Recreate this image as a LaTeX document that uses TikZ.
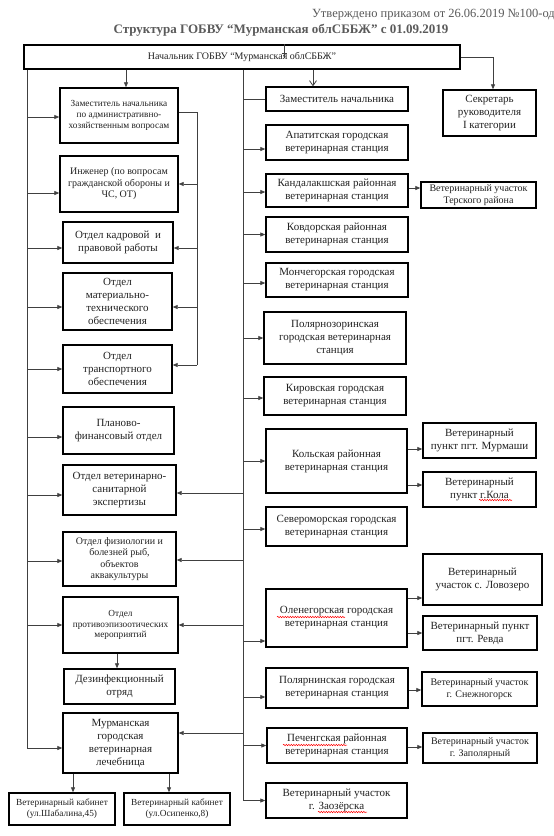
\documentclass[tikz,border=0pt]{standalone}
\usepackage{fontspec}
\setmainfont{Liberation Serif}
\usetikzlibrary{arrows.meta,decorations.pathmorphing}
\definecolor{txt}{HTML}{222222}
\definecolor{ttl}{HTML}{5A5A5A}
\definecolor{ln}{HTML}{404040}
\tikzset{
  box/.style={draw=black, line width=1.4pt, fill=white, align=center, inner sep=1pt, text=txt},
  conn/.style={draw=ln, line width=0.8pt},
  arr/.style={conn, -{Triangle[length=5pt,width=4pt]}},
  oarr/.style={conn, -{Straight Barb[length=5pt,width=7pt]}},
  fa/.style={font=\fontsize{11}{13}\selectfont},
  fb/.style={font=\fontsize{10}{11.5}\selectfont},
  fc/.style={font=\fontsize{9.3}{10.8}\selectfont},
  wavy/.style={draw=red, line width=0.5pt, decorate, decoration={snake, amplitude=0.7pt, segment length=2.5pt}}
}
\newcommand\BX[7]{\node[box,#6,minimum width=#4,minimum height=#5] (#1) at (#2,#3) {#7};}
\begin{document}
\begin{tikzpicture}[x=1pt,y=-1pt]
\useasboundingbox (0,0) rectangle (554,836);
\fill[white] (0,0) rectangle (554,836);
% titles
\node[anchor=east, inner sep=0pt, text=ttl, font=\fontsize{12.5}{14}\selectfont] (appr) at (555,15) {Утверждено приказом от 26.06.2019 №100-од};
\node[inner sep=0pt, text=ttl, font=\bfseries\fontsize{13}{15}\selectfont] (title) at (281,30) {Структура ГОБВУ “Мурманская облСББЖ” с 01.09.2019};
% main
\BX{main}{242}{57}{436}{24}{fb}{Начальник ГОБВУ “Мурманская облСББЖ”}
% left column
\BX{L1}{119}{115.5}{118}{55}{fc}{Заместитель начальника\\по административно-\\хозяйственным вопросам}
\BX{L2}{119}{184}{118}{56}{fb}{Инженер (по вопросам\\гражданской обороны и\\ЧС, ОТ)}
\BX{L3}{118}{242.5}{110}{41}{fa}{Отдел кадровой\ \ и\\правовой работы}
\BX{L4}{117.5}{301.5}{109}{57}{fa}{Отдел\\материально-\\технического\\обеспечения}
\BX{L5}{117.5}{369}{109}{48}{fa}{Отдел\\транспортного\\обеспечения}
\BX{L6}{118.5}{430.5}{111}{47}{fa}{Планово-\\финансовый отдел}
\BX{L7}{119.5}{490}{113}{50}{fa}{Отдел ветеринарно-\\санитарной\\экспертизы}
\BX{L8}{119.5}{559}{113}{54}{fb}{Отдел физиологии и\\болезней рыб,\\объектов\\аквакультуры}
\BX{L9}{120.5}{625}{115}{56}{fc}{Отдел\\противоэпизоотических\\мероприятий}
\BX{L10}{119.5}{686.5}{111}{35}{fa}{Дезинфекционный\\отряд}
\BX{L11}{120.5}{743}{115}{60}{fa}{Мурманская\\городская\\ветеринарная\\лечебница}
\BX{L12}{62}{809}{106}{32}{fc}{Ветеринарный кабинет\\(ул.Шабалина,45)}
\BX{L13}{177}{809}{106}{32}{fc}{Ветеринарный кабинет\\(ул.Осипенко,8)}
% middle column
\BX{M0}{337}{99}{142}{24}{fa}{Заместитель начальника}
\BX{M1}{337}{142.5}{142}{35}{fa}{Апатитская городская\\ветеринарная станция}
\BX{M2}{337}{190.5}{142}{33}{fa}{Кандалакшская районная\\ветеринарная станция}
\BX{M3}{337}{234.5}{142}{35}{fa}{Ковдорская районная\\ветеринарная станция}
\BX{M4}{337}{280}{142}{34}{fa}{Мончегорская городская\\ветеринарная станция}
\BX{M5}{335}{338}{142}{52}{fa}{Полярнозоринская\\городская ветеринарная\\станция}
\BX{M6}{335}{396}{142}{38}{fa}{Кировская городская\\ветеринарная станция}
\BX{M7}{336.5}{461}{141}{64}{fa}{Кольская районная\\ветеринарная станция}
\BX{M8}{336.5}{526.5}{141}{39}{fa}{Североморская городская\\ветеринарная станция}
\BX{M9}{336.5}{618}{141}{58}{fa}{Оленегорская городская\\ветеринарная станция}
\BX{M10}{337}{688}{142}{40}{fa}{Полярнинская городская\\ветеринарная станция}
\BX{M11}{337}{745.5}{140}{35}{fa}{Печенгская районная\\ветеринарная станция}
\BX{M12}{336.5}{800.5}{141}{35}{fa}{Ветеринарный участок\\г. Заозёрска}
% right column
\BX{R0}{489.5}{113}{93}{46}{fa}{Секретарь\\руководителя\\I категории}
\BX{R1}{478.5}{195}{115}{26}{fb}{Ветеринарный участок\\Терского района}
\BX{R2}{479.5}{440.5}{113}{35}{fa}{Ветеринарный\\пункт пгт. Мурмаши}
\BX{R3}{479.5}{489.5}{113}{35}{fa}{Ветеринарный\\пункт г.Кола}
\BX{R4}{482.5}{579.5}{119}{51}{fa}{Ветеринарный\\участок с. Ловозеро}
\BX{R5}{480}{633}{114}{34}{fa}{Ветеринарный пункт\\пгт. Ревда}
\BX{R6}{479.5}{689}{115}{34}{fb}{Ветеринарный участок\\г. Снежногорск}
\BX{R7}{480}{748}{114}{30}{fb}{Ветеринарный участок\\г. Заполярный}
% trunk coordinates
\coordinate (lx) at (27,0);
\coordinate (bx) at (197,0);
\coordinate (mx) at (243,0);
% artifact mark in main box
\draw[conn] ([xshift=42pt]main.north) -- ([xshift=42pt,yshift=-14pt]main.north);
\draw[conn] ([xshift=39.5pt,yshift=-9pt]main.north) -- ([xshift=44.5pt,yshift=-9pt]main.north);
% main -> L1, M0, R0
\draw[arr] ([xshift=7pt]L1.north |- main.south) -- ([xshift=7pt]L1.north);
\draw[oarr] ([xshift=-24pt]M0.north |- main.south) -- ([xshift=-24pt]M0.north);
\draw[arr] (main.east) -- ([xshift=3.5pt]R0.north |- main.east) -- ([xshift=3.5pt]R0.north);
% left trunk
\draw[arr] (lx |- main.south) -- ([yshift=-5pt]L11.west -| lx) -- ([yshift=-5pt]L11.west);
\draw[arr] ([yshift=-1.5pt]L1.west -| lx) -- ([yshift=-1.5pt]L1.west);
\draw[arr] ([yshift=-9pt]L2.west -| lx) -- ([yshift=-9pt]L2.west);
\draw[arr] ([yshift=-5.5pt]L3.west -| lx) -- ([yshift=-5.5pt]L3.west);
\draw[arr] ([yshift=-5.5pt]L4.west -| lx) -- ([yshift=-5.5pt]L4.west);
\draw[arr] (L5.west -| lx) -- (L5.west);
\draw[arr] ([yshift=-6.5pt]L6.west -| lx) -- ([yshift=-6.5pt]L6.west);
\draw[arr] ([yshift=-5pt]L7.west -| lx) -- ([yshift=-5pt]L7.west);
\draw[arr] ([yshift=-2pt]L8.west -| lx) -- ([yshift=-2pt]L8.west);
\draw[arr] (L9.west -| lx) -- (L9.west);
% bracket from L1
\draw[conn] ([yshift=3.5pt]L1.east) -- ([yshift=3.5pt]L1.east -| bx) -- ([yshift=4pt]L5.east -| bx);
\draw[arr] (L2.east -| bx) -- (L2.east);
\draw[arr] ([yshift=-5.5pt]L3.east -| bx) -- ([yshift=-5.5pt]L3.east);
\draw[arr] ([yshift=-5.5pt]L4.east -| bx) -- ([yshift=-5.5pt]L4.east);
\draw[arr] ([yshift=4pt]L5.east -| bx) -- ([yshift=4pt]L5.east);
% middle trunk
\draw[arr] (mx |- main.south) -- (M12.west -| mx) -- (M12.west);
\draw[conn] (M0.west -| mx) -- (M0.west);
\draw[arr] ([yshift=-6.5pt]M1.west -| mx) -- ([yshift=-6.5pt]M1.west);
\draw[arr] ([yshift=-1.5pt]M2.west -| mx) -- ([yshift=-1.5pt]M2.west);
\draw[arr] (M3.west -| mx) -- (M3.west);
\draw[arr] ([yshift=-3pt]M4.west -| mx) -- ([yshift=-3pt]M4.west);
\draw[arr] (M5.west -| mx) -- (M5.west);
\draw[arr] ([yshift=-2pt]M6.west -| mx) -- ([yshift=-2pt]M6.west);
\draw[arr] (M7.west -| mx) -- (M7.west);
\draw[arr] ([yshift=-2.5pt]M8.west -| mx) -- ([yshift=-2.5pt]M8.west);
\draw[arr] ([yshift=-23pt]M9.west -| mx) -- ([yshift=-23pt]M9.west);
\draw[arr] ([yshift=-9pt]M10.west -| mx) -- ([yshift=-9pt]M10.west);
\draw[arr] (M11.west -| mx) -- (M11.west);
% middle trunk -> left boxes
\draw[arr] ([yshift=-3pt]L7.east -| mx) -- ([yshift=-3pt]L7.east);
\draw[arr] ([yshift=-1pt]L8.east -| mx) -- ([yshift=-1pt]L8.east);
\draw[arr] (L9.east -| mx) -- (L9.east);
\draw[arr] ([yshift=10pt]L11.east -| mx) -- ([yshift=10pt]L11.east);
% vertical sub arrows
\draw[arr] ([xshift=-2.5pt]L10.north |- L9.south) -- ([xshift=-2.5pt]L10.north);
\draw[arr] ([xshift=11pt]L12.north |- L11.south) -- ([xshift=11pt]L12.north);
\draw[arr] ([xshift=-8pt]L13.north |- L11.south) -- ([xshift=-8pt]L13.north);
% station -> sub units
\draw[arr] ([yshift=2.5pt]M2.east) -- ([yshift=2.5pt]M2.east -| R1.west);
\draw[arr] ([yshift=12pt]M7.east) -- ([yshift=12pt]M7.east -| R2.west);
\draw[arr] ([yshift=-24pt]M7.east) -- ([yshift=-24pt]M7.east -| R3.west);
\draw[arr] ([yshift=20pt]M9.east) -- ([yshift=20pt]M9.east -| R4.west);
\draw[arr] ([yshift=-15pt]M9.east) -- ([yshift=-15pt]M9.east -| R5.west);
\draw[arr] ([yshift=-2pt]M10.east) -- ([yshift=-2pt]M10.east -| R6.west);
\draw[arr] ([yshift=-1.5pt]M11.east) -- ([yshift=-1.5pt]M11.east -| R7.west);
% spell-check underlines
\draw[wavy] (479,500) -- (512,500);
\draw[wavy] (277,617) -- (345,617);
\draw[wavy] (283,745) -- (347,745);
\draw[wavy] (318,812) -- (367,812);
\end{tikzpicture}
\end{document}
